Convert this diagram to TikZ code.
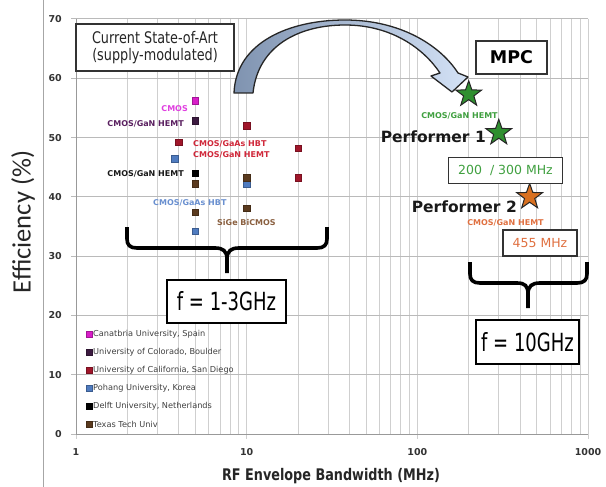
\documentclass[tikz,border=0pt]{standalone}
\usepackage{fontspec}
\setmainfont{DejaVu Sans}
\newfontfamily\dvs{DejaVu Sans}
\newfontfamily\dvc{DejaVu Sans}[FakeStretch=0.8]
\newfontfamily\dvcc{DejaVu Sans}[FakeStretch=0.72]
\newfontfamily\carl{Carlito}
\usetikzlibrary{shapes.geometric}
\definecolor{cmag}{HTML}{D81EC8}
\definecolor{cmagt}{HTML}{E040E0}
\definecolor{cpur}{HTML}{3C1A40}
\definecolor{cpurt}{HTML}{5A2060}
\definecolor{cred}{HTML}{A0162A}
\definecolor{credt}{HTML}{D0283A}
\definecolor{cblue}{HTML}{4F7BBF}
\definecolor{cbluet}{HTML}{6A90D0}
\definecolor{cbrown}{HTML}{5A3A1E}
\definecolor{cbrownt}{HTML}{8A6040}
\definecolor{cgreen}{HTML}{2F8F2F}
\definecolor{cgreent}{HTML}{40A040}
\definecolor{corange}{HTML}{D87020}
\definecolor{coranget}{HTML}{E07040}
\definecolor{cgrid}{HTML}{CFCFCF}
\definecolor{arrowa}{HTML}{7F93B0}
\definecolor{arrowb}{HTML}{D4E2F6}
\begin{document}
\begin{tikzpicture}[x=1pt,y=-1pt,
  declare function={px(\v)=76+170.67*log10(\v); py(\e)=434-5.929*\e;},
  gridv/.style={draw=cgrid,line width=0.9pt},
  gridh/.style={draw=cgrid!90!black,line width=1pt},
  ticklab/.style={font=\dvs\bfseries\fontsize{9.5}{11}\selectfont,text=black!80,inner sep=1pt},
  sq/.style={draw=#1!75!black,fill=#1,minimum size=6.5pt,inner sep=0pt,line width=0.4pt},
  lsq/.style={draw=#1!75!black,fill=#1,minimum size=5.5pt,inner sep=0pt,line width=0.4pt},
  dlab/.style={font=\dvs\bfseries\fontsize{8}{9}\selectfont,inner sep=0pt},
  legt/.style={font=\dvs\fontsize{8.2}{9}\selectfont,text=black!75,inner sep=0pt,anchor=west},
  box/.style={draw=black!80,fill=white,line width=1.2pt,inner sep=0pt},
  bigbox/.style={draw=black,fill=white,line width=1.4pt,inner sep=0pt,font=\dvcc\fontsize{25}{28}\selectfont},
  perf/.style={font=\dvs\bfseries\fontsize{15.5}{17}\selectfont,inner sep=0pt,text=black!90},
  starn/.style={star,star points=5,star point ratio=2.5,minimum size=27pt,inner sep=0pt,draw=black!85,line width=1pt,fill=#1},
  brace/.style={draw=black,line width=3.6pt},
]
\useasboundingbox (0,0) rectangle (606,487);
\fill[white] (0,0) rectangle (606,487);
% outer chart border
\draw[draw=black!35,line width=0.9pt] (43,0) -- (43,487);
% grid
\foreach \d in {1,10,100}{
  \foreach \m in {2,...,9}{
    \draw[gridv] ({px(\m*\d)},19) -- ({px(\m*\d)},434);
  }
}
\foreach \d in {1,10,100,1000}{
  \draw[gridv] ({px(\d)},19) -- ({px(\d)},439);
}
\foreach \e in {0,10,...,70}{
  \draw[gridh] (71,{py(\e)}) -- (588,{py(\e)});
  \node[ticklab,anchor=east] (yt\e) at (63,{py(\e)}) {\e};
}
\draw[draw=black!40,line width=1pt] (76,19) -- (76,434) -- (588,434);
\node[ticklab] (xt1) at ({px(1)},452) {1};
\node[ticklab] (xt10) at ({px(10)},452) {10};
\node[ticklab] (xt100) at ({px(100)},452) {100};
\node[ticklab] (xt1000) at ({px(1000)},452) {1000};
% axis titles
\node[font=\dvc\bfseries\fontsize{16}{18}\selectfont,text=black!85,inner sep=0pt] (xtitle) at (331,476) {RF Envelope Bandwidth (MHz)};
\node[font=\carl\fontsize{26.5}{30}\selectfont,text=black!85,inner sep=0pt,rotate=90] (ytitle) at (23,222) {Efficiency (\%)};
% data points
\node[sq=cmag] (p1) at ({px(5)},{py(56.2)}) {};
\node[sq=cpur] (p2) at ({px(5)},{py(52.8)}) {};
\node[sq=cred] (p3) at ({px(4)},{py(49.2)}) {};
\node[sq=cred] (p4) at ({px(10)},{py(52)}) {};
\node[sq=cred] (p5) at ({px(20)},{py(48.2)}) {};
\node[sq=cred] (p6) at ({px(20)},{py(43.2)}) {};
\node[sq=cblue] (p7) at ({px(3.8)},{py(46.4)}) {};
\node[sq=cblue] (p8) at ({px(10)},{py(42.2)}) {};
\node[sq=cblue] (p9) at ({px(5)},{py(34.2)}) {};
\node[sq=black] (p10) at ({px(5)},{py(44)}) {};
\node[sq=cbrown] (p11) at ({px(5)},{py(42.2)}) {};
\node[sq=cbrown] (p12) at ({px(10)},{py(43.2)}) {};
\node[sq=cbrown] (p13) at ({px(5)},{py(37.4)}) {};
\node[sq=cbrown] (p14) at ({px(10)},{py(38.1)}) {};
% data labels
\node[dlab,text=cmagt,anchor=east] (d1) at (188,109) {CMOS};
\node[dlab,text=cpurt,anchor=east] (d2) at (184,124) {CMOS/GaN HEMT};
\node[dlab,text=credt,anchor=west] (d3) at (193,144) {CMOS/GaAs HBT};
\node[dlab,text=credt,anchor=west] (d4) at (193,155) {CMOS/GaN HEMT};
\node[dlab,text=black!90,anchor=east] (d5) at (184,174) {CMOS/GaN HEMT};
\node[dlab,text=cbluet,anchor=west] (d6) at (153,203) {CMOS/GaAs HBT};
\node[dlab,text=cbrownt,anchor=west] (d7) at (217,223) {SiGe BiCMOS};
% legend
\node[lsq=cmag] (l1) at (89,334) {};
\node[legt] (lt1) at (93,334) {Canatbria University, Spain};
\node[lsq=cpur] (l2) at (89,352) {};
\node[legt] (lt2) at (93,352) {University of Colorado, Boulder};
\node[lsq=cred] (l3) at (89,370) {};
\node[legt] (lt3) at (93,370) {University of California, San Diego};
\node[lsq=cblue] (l4) at (89,388) {};
\node[legt] (lt4) at (93,388) {Pohang University, Korea};
\node[lsq=black] (l5) at (89,406) {};
\node[legt] (lt5) at (93,406) {Delft University, Netherlands};
\node[lsq=cbrown] (l6) at (89,424) {};
\node[legt] (lt6) at (93,424) {Texas Tech Univ};
% current state box
\node[box,minimum width=158pt,minimum height=47pt,align=center,font=\dvc\fontsize{16}{17}\selectfont,text=black!85] (cur) at (155,47.5) {Current State-of-Art\\(supply-modulated)};
% curved arrow
\shadedraw[left color=arrowa,right color=arrowb,draw=black!85,line width=1.3pt,line join=round]
  (234,93) .. controls (236,42) and (290,20) .. (345,20)
  .. controls (400,20) and (440,45) .. (458,73)
  -- (468,77) -- (452,92) -- (431,76) -- (440,73)
  .. controls (424,49) and (392,25) .. (345,25)
  .. controls (300,25) and (258,45) .. (253,93) -- cycle;
% MPC box
\node[box,minimum width=71pt,minimum height=33pt,font=\dvs\bfseries\fontsize{17.5}{20}\selectfont] (mpc) at (511.5,57.5) {MPC};
% stars
\node[starn=cgreen] (s1) at ({px(200)},{py(57.3)}) {};
\node[starn=cgreen] (s2) at ({px(300)},{py(50.8)}) {};
\node[starn=corange] (s3) at ({px(455)},{py(40)}) {};
\node[dlab,text=cgreent] (g1) at (459.5,116) {CMOS/GaN HEMT};
\node[perf,anchor=east] (perf1) at (486,137) {Performer 1};
\node[box,minimum width=114pt,minimum height=26pt,text=cgreent,font=\dvs\fontsize{12.5}{14}\selectfont] (bw1) at (505.5,170.5) {200\ \ / 300 MHz};
\node[perf,anchor=east] (perf2) at (517,207) {Performer 2};
\node[dlab,text=coranget] (o1) at (505.5,223) {CMOS/GaN HEMT};
\node[box,minimum width=74pt,minimum height=26pt,text=coranget,font=\dvs\fontsize{12.5}{14}\selectfont] (bw2) at (540,243) {455 MHz};
% braces
\draw[brace] (127,227) -- (127,239) .. controls (127,245) and (130,248) .. (137,248) -- (215,248)
  .. controls (223,248) and (227,251) .. (227,259) -- (227,273);
\draw[brace] (227,259) .. controls (227,251) and (231,248) .. (239,248) -- (317,248)
  .. controls (324,248) and (327,245) .. (327,239) -- (327,227);
\draw[brace] (470,262) -- (470,274) .. controls (470,280) and (473,283) .. (480,283) -- (517,283)
  .. controls (525,283) and (528,286) .. (528,294) -- (528,308);
\draw[brace] (528,294) .. controls (528,286) and (532,283) .. (540,283) -- (577,283)
  .. controls (584,283) and (587,280) .. (587,274) -- (587,262);
% frequency boxes
\node[bigbox,minimum width=119pt,minimum height=43pt] (f1) at (226.5,301.5) {f = 1-3GHz};
\node[bigbox,minimum width=103pt,minimum height=44pt] (f2) at (527.5,342) {f = 10GHz};
\end{tikzpicture}
\end{document}
